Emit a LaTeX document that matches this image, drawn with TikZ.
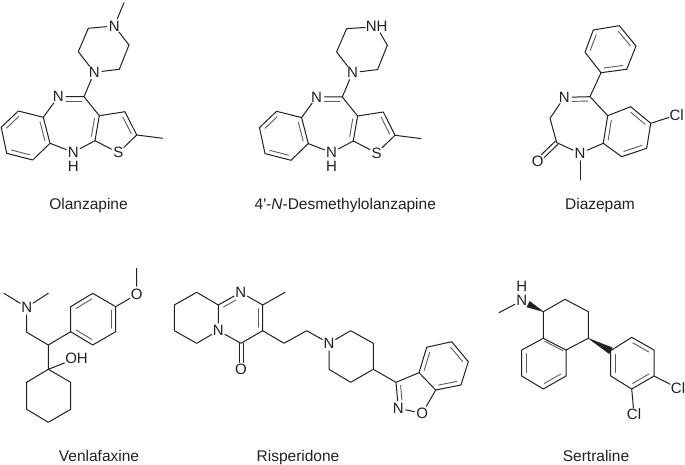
\documentclass[tikz,border=0pt]{standalone}
\usepackage{fontspec}
\usetikzlibrary{calc}
\newfontfamily\chemf{Liberation Sans}
\definecolor{ink}{gray}{0.13}
\definecolor{inner}{gray}{0.36}
\tikzset{
  bond/.style={draw=ink,line width=1bp,line cap=round,line join=round},
  innerbond/.style={draw=inner,line width=0.9bp,line cap=round},
  atom/.style={circle,inner sep=0pt,minimum size=12.5bp,text=ink,font=\chemf\fontsize{15bp}{15bp}\selectfont},
  group/.style={rectangle,inner sep=0.6bp,text=ink,font=\chemf\fontsize{15bp}{15bp}\selectfont},
  caption/.style={anchor=base,inner sep=0pt,text=ink,font=\chemf\fontsize{15.5bp}{16bp}\selectfont},
  wedge/.style={fill=ink,draw=ink,line width=0.3bp,line join=round},
}
% inner line of a double bond, on the right hand of the way a -> b
\newcommand\dro[5]{\draw[innerbond] ($(#1)!#3!(#2)!#5!-90:(#2)$) -- ($(#2)!#4!(#1)!#5!90:(#1)$);}
\newcommand\drx[4]{\dro{#1}{#2}{#3}{#4}{4.3bp}}
\newcommand\dr[2]{\drx{#1}{#2}{0.14}{0.14}}
% tricyclic core shared by olanzapine and its desmethyl metabolite
\newcommand\olancore[1]{%
  \node[atom] (#1Nb) at (94.3,72.3) {N};
  \coordinate (#1Cb1) at (88.3,28.3);
  \coordinate (#1Cb2) at (78.3,51.7);
  \coordinate (#1Cb3) at (119.3,69.3);
  \coordinate (#1Cb4) at (129,45);
  \coordinate (#1C4) at (84,96.7);
  \node[atom] (#1N5) at (58.3,96.7) {N};
  \coordinate (#1Ca) at (43.3,117.3);
  \coordinate (#1Cc) at (18.3,111);
  \coordinate (#1Cd) at (1.2,127.3);
  \coordinate (#1Ce) at (6.7,153.3);
  \coordinate (#1Cf) at (32.7,160);
  \coordinate (#1Cg) at (50,143.3);
  \node[atom] (#1N10) at (73.3,152.3) {N};
  \node[atom] (#1H10) at (73.3,166.5) {H};
  \coordinate (#1Ch) at (95,140.7);
  \coordinate (#1Ci) at (99.3,115.7);
  \coordinate (#1Cj) at (125,111.7);
  \coordinate (#1Ck) at (136.7,135);
  \node[atom] (#1S) at (118.3,152.7) {S};
  \coordinate (#1Me) at (162.7,138.3);
  \draw[bond] (#1Nb) -- (#1Cb2) -- (#1Cb1);
  \draw[bond] (#1Nb) -- (#1Cb3) -- (#1Cb4);
  \draw[bond] (#1Nb) -- (#1C4) -- (#1N5);
  \draw[bond] (#1C4) -- (#1Ci) -- (#1Cj) -- (#1Ck) -- (#1Me);
  \draw[bond] (#1Ci) -- (#1Ch) -- (#1N10) -- (#1Cg);
  \draw[bond] (#1Ch) -- (#1S) -- (#1Ck);
  \draw[bond] (#1N5) -- (#1Ca) -- (#1Cc) -- (#1Cd) -- (#1Ce) -- (#1Cf) -- (#1Cg) -- (#1Ca);
  \drx{#1N5}{#1C4}{0.3}{0.08}
  \dr{#1Ci}{#1Ch}
  \dr{#1Cj}{#1Ck}
  \dr{#1Cd}{#1Cc}
  \dr{#1Cf}{#1Ce}
  \dr{#1Ca}{#1Cg}
}
\begin{document}
\begin{tikzpicture}[x=1bp,y=-1bp]
\useasboundingbox (0,0) rectangle (685,465);
\fill[white] (0,0) rectangle (685,465);

% ---------- Olanzapine
\olancore{o}
\node[atom] (oNt) at (114.3,26) {N};
\coordinate (oMt) at (124,2.7);
\draw[bond] (oNt) -- (oMt);
\draw[bond] (oNt) -- (oCb1);
\draw[bond] (oNt) -- (oCb4);
\node[caption] (capO) at (88.5,210) {Olanzapine};

% ---------- Desmethylolanzapine
\begin{scope}[shift={(258.3,0.3)}]
\olancore{d}
\node[group] (dNH) at (118.4,26.5) {NH};
\draw[bond] (dNH) -- (dCb1);
\draw[bond] (dNH) -- (dCb4);
\node[caption] (capD) at (87,209.7) {4'-\textit{N}-Desmethylolanzapine};
\end{scope}

% ---------- Diazepam
\coordinate (zP1) at (593.3,30);
\coordinate (zP2) at (619.3,25.7);
\coordinate (zP3) at (636,46);
\coordinate (zP4) at (626.7,69.3);
\coordinate (zP5) at (601,72.7);
\coordinate (zP6) at (585,52.3);
\coordinate (zC5) at (590,96.7);
\node[atom] (zN4) at (564.3,97.3) {N};
\coordinate (zC3) at (550,118.3);
\coordinate (zC2) at (556.7,142.7);
\node[atom] (zO) at (537.7,161) {O};
\node[atom] (zN1) at (580,153.3) {N};
\coordinate (zMe) at (580,180);
\coordinate (zC9a) at (603.3,143.3);
\coordinate (zC5a) at (607.7,115.7);
\coordinate (zC6) at (630.7,106.7);
\coordinate (zC7) at (650.7,123.3);
\coordinate (zC8) at (646.7,148.3);
\coordinate (zC9) at (621.7,156.7);
\node[group] (zCl) at (676.7,115) {Cl};
\draw[bond] (zP1) -- (zP2) -- (zP3) -- (zP4) -- (zP5) -- (zP6) -- cycle;
\draw[bond] (zP5) -- (zC5) -- (zN4) -- (zC3) -- (zC2) -- (zN1) -- (zC9a);
\draw[bond] (zN1) -- (zMe);
\draw[bond] (zC5) -- (zC5a) -- (zC6) -- (zC7) -- (zC8) -- (zC9) -- (zC9a) -- (zC5a);
\draw[bond] (zC7) -- (zCl);
\draw[bond] ($(zC2)!2bp!90:(zO)$) -- ($(zO)!7bp!(zC2)!2bp!-90:(zC2)$);
\draw[bond] ($(zC2)!2bp!-90:(zO)$) -- ($(zO)!7bp!(zC2)!2bp!90:(zC2)$);
\dr{zP6}{zP1}
\dr{zP2}{zP3}
\dr{zP4}{zP5}
\drx{zN4}{zC5}{0.3}{0.08}
\dr{zC9a}{zC5a}
\dr{zC6}{zC7}
\dr{zC8}{zC9}
\node[caption] (capZ) at (600,210) {Diazepam};

% ---------- Venlafaxine
\coordinate (vMe1) at (4,293.3);
\node[atom] (vN) at (26.7,307.3) {N};
\coordinate (vMe2) at (48.3,293.3);
\coordinate (vCH2) at (26.7,332.3);
\coordinate (vCH) at (48.3,345);
\coordinate (vC1) at (48.3,369.3);
\node[group] (vOH) at (76.5,358.3) {OH};
\coordinate (vR2) at (70.7,382.3);
\coordinate (vR3) at (70.7,409.3);
\coordinate (vR4) at (48.3,422.3);
\coordinate (vR5) at (26.7,409.3);
\coordinate (vR6) at (26.7,382.3);
\coordinate (vA1) at (70.7,331.7);
\coordinate (vA2) at (70.7,306.7);
\coordinate (vA3) at (92.7,293.3);
\coordinate (vA4) at (115.7,306.7);
\coordinate (vA5) at (115.7,331.7);
\coordinate (vA6) at (92.7,345);
\node[atom] (vO) at (136.7,294.3) {O};
\coordinate (vMe3) at (136.7,268.3);
\draw[bond] (vMe1) -- (vN) -- (vMe2);
\draw[bond] (vN) -- (vCH2) -- (vCH) -- (vC1);
\draw[bond] (vCH) -- (vA1);
\draw[bond] (vC1) -- (vOH);
\draw[bond] (vC1) -- (vR2) -- (vR3) -- (vR4) -- (vR5) -- (vR6) -- cycle;
\draw[bond] (vA1) -- (vA2) -- (vA3) -- (vA4) -- (vA5) -- (vA6) -- cycle;
\draw[bond] (vA4) -- (vO) -- (vMe3);
\dr{vA2}{vA3}
\dr{vA4}{vA5}
\dr{vA6}{vA1}
\node[caption] (capV) at (99,461.5) {Venlafaxine};

% ---------- Risperidone
\coordinate (rA1) at (196.7,292.3);
\coordinate (rA2) at (174.3,305);
\coordinate (rA3) at (174.3,330.7);
\coordinate (rA4) at (196.7,343.3);
\node[atom] (rN5) at (218.3,330.7) {N};
\coordinate (rC9) at (218.3,305);
\node[atom] (rN1) at (240.7,292.3) {N};
\coordinate (rC2) at (262.7,305);
\coordinate (rMe) at (285,292.3);
\coordinate (rC3) at (262.7,330.7);
\coordinate (rC4) at (241,343.3);
\node[atom] (rO) at (241,369.3) {O};
\coordinate (rL1) at (284,343.3);
\coordinate (rL2) at (306.7,330.7);
\node[atom] (rNp) at (329,343.3) {N};
\coordinate (rP2) at (350.7,330.7);
\coordinate (rP3) at (373.3,343.3);
\coordinate (rP4) at (373.3,369.3);
\coordinate (rP5) at (350.7,382.3);
\coordinate (rP6) at (329,369.3);
\coordinate (rI3) at (396,382.3);
\coordinate (rI3a) at (419,372.7);
\node[atom] (rNi) at (398.3,408.3) {N};
\node[atom] (rOi) at (422.3,413.3) {O};
\coordinate (rI7a) at (435.7,390);
\coordinate (rB4) at (426.7,347.3);
\coordinate (rB5) at (451.7,341.7);
\coordinate (rB6) at (468.3,361.7);
\coordinate (rB7) at (461,385);
\draw[bond] (rC9) -- (rA1) -- (rA2) -- (rA3) -- (rA4) -- (rN5) -- (rC9) -- (rN1) -- (rC2) -- (rC3) -- (rC4) -- (rN5);
\draw[bond] (rC2) -- (rMe);
\draw[bond] (rC3) -- (rL1) -- (rL2) -- (rNp) -- (rP2) -- (rP3) -- (rP4) -- (rP5) -- (rP6) -- (rNp);
\draw[bond] (rP4) -- (rI3) -- (rI3a) -- (rI7a) -- (rOi) -- (rNi) -- (rI3);
\draw[bond] (rI3a) -- (rB4) -- (rB5) -- (rB6) -- (rB7) -- (rI7a);
\draw[bond] ($(rC4)!2bp!90:(rO)$) -- ($(rO)!7bp!(rC4)!2bp!-90:(rC4)$);
\draw[bond] ($(rC4)!2bp!-90:(rO)$) -- ($(rO)!7bp!(rC4)!2bp!90:(rC4)$);
\drx{rC9}{rN1}{0.14}{0.3}
\dr{rC2}{rC3}
\drx{rNi}{rI3}{0.3}{0.14}
\dr{rI3a}{rB4}
\dr{rB5}{rB6}
\dr{rB7}{rI7a}
\node[caption] (capR) at (298,461.5) {Risperidone};

% ---------- Sertraline
\coordinate (sMe) at (499,312.7);
\node[atom] (sN) at (521.7,300.7) {N};
\node[atom] (sH) at (521.7,286.7) {H};
\coordinate (sC1) at (543.3,311.7);
\coordinate (sWn) at (528.3,304.2);
\coordinate (sC2) at (565,299.3);
\coordinate (sC3) at (588.3,311.7);
\coordinate (sC4) at (588.3,338.3);
\coordinate (sC4a) at (566,350);
\coordinate (sC8a) at (543.3,338.3);
\coordinate (sC8) at (521.7,350);
\coordinate (sC7) at (521.7,376);
\coordinate (sC6) at (543.3,389);
\coordinate (sC5) at (566,376);
\coordinate (sW) at (610.7,350.7);
\coordinate (sA2) at (631.7,337.3);
\coordinate (sA3) at (654,350);
\coordinate (sA4) at (654,376);
\coordinate (sA5) at (631.7,389);
\coordinate (sA6) at (610.7,376);
\node[group] (sCl1) at (678,388.3) {Cl};
\node[group] (sCl2) at (634,414) {Cl};
\draw[bond] (sMe) -- (sN);
\draw[bond] (sC1) -- (sC2) -- (sC3) -- (sC4) -- (sC4a);
\draw[bond] (sC1) -- (sC8a) -- (sC8) -- (sC7) -- (sC6) -- (sC5) -- (sC4a) -- (sC8a);
\draw[bond] (sW) -- (sA2) -- (sA3) -- (sA4) -- (sA5) -- (sA6) -- cycle;
\draw[bond] (sA4) -- (sCl1);
\draw[bond] (sA5) -- (sCl2);
\fill[wedge] (sC1) -- ($(sWn)!3.2bp!90:(sC1)$) -- ($(sWn)!3.2bp!-90:(sC1)$) -- cycle;
\fill[wedge] (sC4) -- ($(sW)!3.4bp!90:(sC4)$) -- ($(sW)!3.4bp!-90:(sC4)$) -- cycle;
\dr{sC7}{sC8}
\dr{sC5}{sC6}
\dro{sC8a}{sC4a}{0.1}{0.1}{2bp}
\dr{sA2}{sA3}
\dr{sA4}{sA5}
\dr{sA6}{sW}
\node[caption] (capS) at (596,461.5) {Sertraline};
\end{tikzpicture}
\end{document}
